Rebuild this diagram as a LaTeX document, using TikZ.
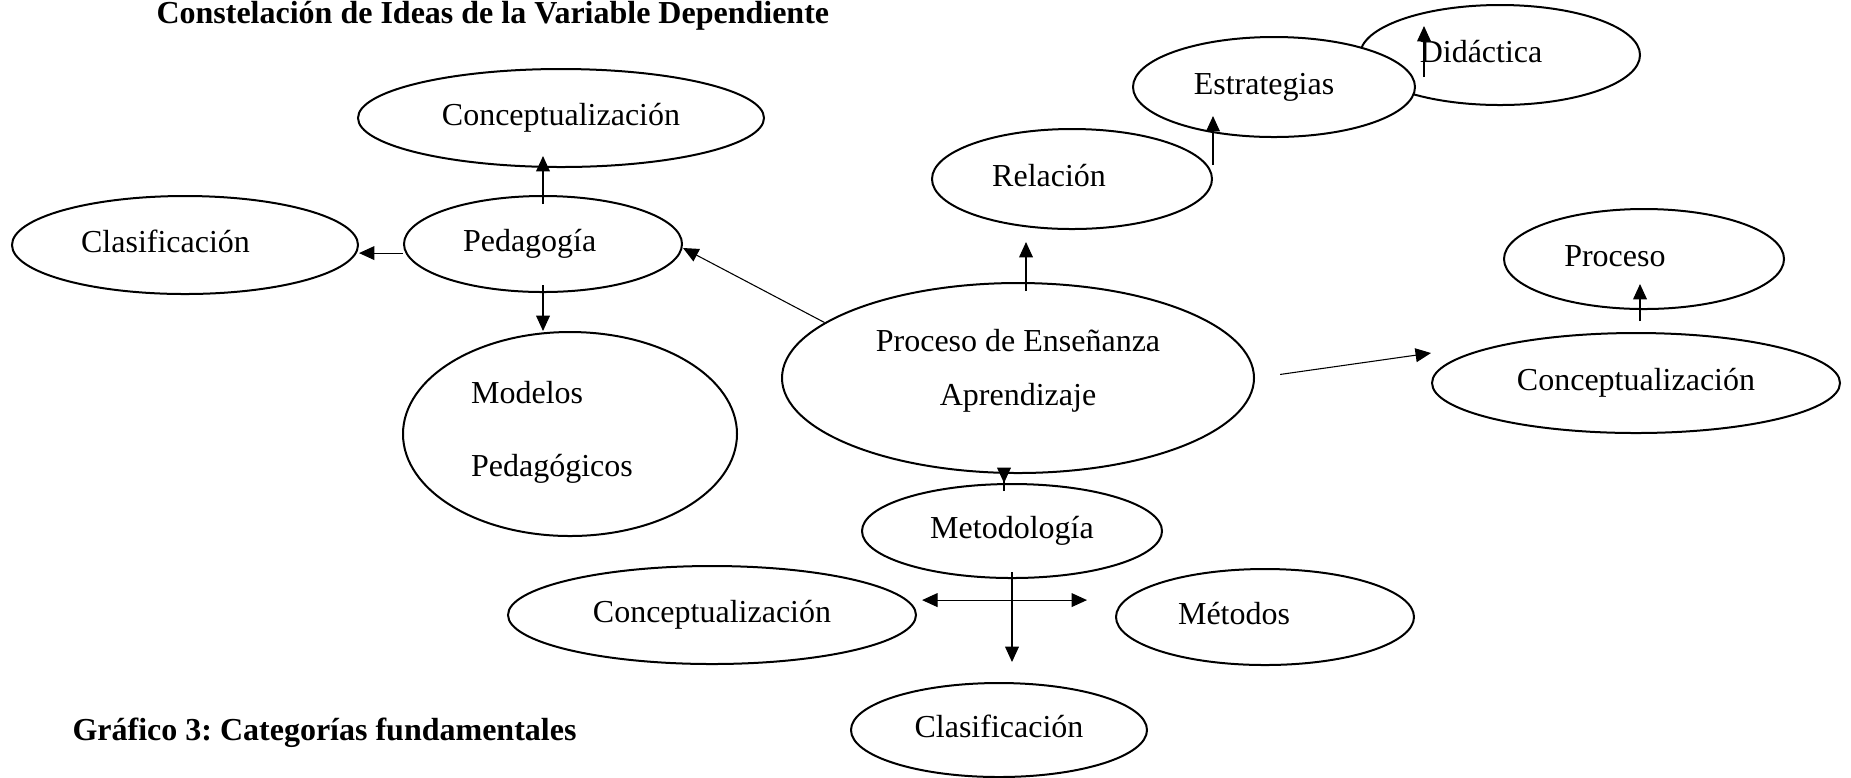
\documentclass[tikz,border=0pt]{standalone}
\usepackage{fontspec}
\setmainfont{Liberation Serif}
\usetikzlibrary{shapes.geometric,arrows.meta}
\frenchspacing

\begin{document}
\begin{tikzpicture}[x=0.375pt,y=-0.375pt,
  font=\fontsize{12pt}{14.4pt}\selectfont,
  >={Triangle[length=5.8pt,width=5.2pt]},
  idea/.style 2 args={ellipse,draw,line width=0.75pt,fill=white,inner sep=0pt,
    text height=0.7em,text depth=0.15em,minimum width=#1*0.75pt,minimum height=#2*0.75pt},
  txt/.style={text height=0.7em,text depth=0.15em},
  rotulo/.style={anchor=base west,inner sep=0pt,font=\fontsize{12pt}{14.4pt}\selectfont\bfseries},
  arr/.style={->,line width=0.4pt}]
  \useasboundingbox (0,0) rectangle (1851,777);

  \node[rotulo] (titulo) at (156,23) {Constelación de Ideas de la Variable Dependiente};
  \node[rotulo] (grafico) at (72,740) {Gráfico 3: Categorías fundamentales};

  \node[idea={236}{95},label={[align=center,yshift=2.6pt]center:Proceso de Enseñanza\\[6pt]Aprendizaje}] (pea) at (1018,378) {};

  % pedagogia
  \node[idea={139}{48},label={[txt,xshift=-5pt]center:Pedagogía}] (ped) at (543,244) {};
  \node[idea={203}{49}] (conA) at (561,118) {Conceptualización};
  \node[idea={173}{49},label={[txt,xshift=-7.3pt]center:Clasificación}] (claA) at (185,245) {};
  \node[idea={167}{102},label={[align=left,xshift=-6.75pt,yshift=0.6pt]center:Modelos\\[13pt]Pedagógicos}] (mod) at (570,434) {};

  % relacion
  \node[idea={140}{50},label={[txt,xshift=-8.6pt]center:Relación}] (rel) at (1072,179) {};
  \node[idea={140}{50},label={[txt,xshift=-7.1pt]center:Didáctica}] (did) at (1500,55) {};
  \node[idea={141}{50},label={[txt,xshift=-3.75pt]center:Estrategias}] (est) at (1274,87) {};

  % conceptualizacion
  \node[idea={204}{50}] (conR) at (1636,383) {Conceptualización};
  \node[idea={140}{50},label={[txt,xshift=-10.9pt]center:Proceso}] (pro) at (1644,259) {};

  % metodologia
  \node[idea={150}{47}] (met) at (1012,531) {Metodología};
  \node[idea={204}{49}] (conC) at (712,615) {Conceptualización};
  \node[idea={149}{48},label={[txt,xshift=-11.6pt]center:Métodos}] (mtd) at (1265,617) {};
  \node[idea={148}{47}] (claB) at (999,730) {Clasificación};

  \draw[arr,shorten <=-3.4pt,shorten >=-4.5pt] (ped.north) -- (ped.north |- conA.south);
  \draw[arr] ([yshift=-3.4pt]ped.west) -- ([yshift=-3.4pt]ped.west -| claA.east);
  \draw[arr,shorten <=-3pt] (ped.south) -- (ped.south |- mod.north);
  \draw[arr] (pea.164) -- ([yshift=-1.5pt]ped.east);
  \draw[arr,shorten <=-3.4pt,shorten >=4.5pt] ([xshift=3pt]pea.north) -- ([xshift=3pt]pea.north |- rel.south);
  \draw[arr,shorten <=5.25pt,shorten >=-8.25pt] (rel.east) -- (rel.east |- est.south);
  \draw[arr,shorten <=3.75pt,shorten >=8.25pt] ([xshift=3pt]est.east) -- ([xshift=3pt]est.east |- did.north);
  \draw[arr,shorten <=9.5pt] (pea.east) -- ([yshift=11.25pt]conR.west);
  \draw[arr,shorten <=4.1pt,shorten >=-9.75pt] ([xshift=1.5pt]conR.north) -- ([xshift=1.5pt]conR.north |- pro.south);
  \draw[arr,shorten <=-6.4pt] ([xshift=-5.25pt]pea.south) -- ([xshift=-5.25pt]pea.south |- met.north);
  \draw[arr,shorten <=-2.6pt,shorten >=7.5pt] (met.south) -- (met.south |- claB.north);
  \draw[<->,line width=0.4pt,shorten <=1.9pt,shorten >=10.5pt] ([yshift=5.6pt]conC.east) -- ([yshift=5.6pt]conC.east -| mtd.west);
\end{tikzpicture}
\end{document}
